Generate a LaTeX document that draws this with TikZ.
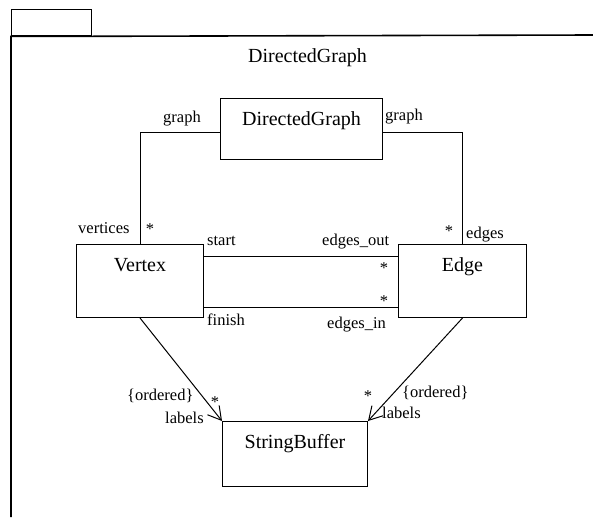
\documentclass[tikz,border=0pt]{standalone}
\usepackage{fontspec}
\setmainfont{Liberation Serif}
\usetikzlibrary{arrows.meta,calc}

\begin{document}
\begin{tikzpicture}[x=1pt,y=-1pt,
  font=\fontsize{20}{24}\selectfont,
  cls/.style={draw,line width=1pt,inner sep=0pt,text height=27pt,anchor=north west},
  role/.style={font=\fontsize{16.5}{20}\selectfont,inner sep=0pt,anchor=base west},
  mult/.style={font=\fontsize{16.5}{20}\selectfont,inner sep=0pt},
  assoc/.style={line width=1pt},
  nav/.style={assoc,-{Straight Barb[length=13pt,width=15pt]}}]
\useasboundingbox (0,0) rectangle (593,517);

% Package frame, cut off at the right and bottom edges.
\node[draw,line width=1.3pt,minimum width=80pt,minimum height=26pt,inner sep=0pt,
      anchor=north west] (pkgtab) at (11,9) {};
\draw[line width=1.6pt] (593,35) -- (pkgtab.south east) -- (pkgtab.south west) -- (11,517);
\node[inner sep=0pt,anchor=base] (pkgname) at (307.5,62) {DirectedGraph};

% Classes
\node[cls,minimum width=162pt,text depth=34pt] (dg) at (220,98) {DirectedGraph};
\node[cls,minimum width=127pt,text depth=46pt] (vtx) at (76,244) {Vertex};
\node[cls,minimum width=128pt,text depth=46pt] (edge) at (398,244) {Edge};
\node[cls,minimum width=145pt,text depth=38pt] (sbuf) at (222,421) {StringBuffer};

% Associations
\draw[assoc] ([yshift=-34pt]dg.north west) -| (vtx.north);
\draw[assoc] ([yshift=-34pt]dg.north east) -| (edge.north);
\draw[assoc] ([yshift=-12pt]vtx.north east) -- ([yshift=-12pt]edge.north west);
\draw[assoc] ([yshift=11pt]vtx.south east) -- ([yshift=11pt]edge.south west);
\draw[nav] (vtx.south) -- (sbuf.north west);
\draw[nav] (edge.south) -- (sbuf.north east);

% Role names and multiplicities
\node[role] (graphl) at (163,122) {graph};
\node[role] (graphr) at (385,120) {graph};
\node[role] (vertices) at (78,233) {vertices};
\node[role] (edges) at (466,238) {edges};
\node[role] (start) at (207,245) {start};
\node[role] (edgesout) at (322,245) {edges\_out};
\node[role] (finish) at (207,325) {finish};
\node[role] (edgesin) at (327,328) {edges\_in};
\node[role] (ordl) at (127,400) {\{ordered\}};
\node[role] (labl) at (165,423) {labels};
\node[role] (ordr) at (402,397) {\{ordered\}};
\node[role] (labr) at (382,418) {labels};
\node[mult] (mvert) at (150,229.5) {*};
\node[mult] (medges) at (449,231.5) {*};
\node[mult] (mout) at (384,268.5) {*};
\node[mult] (min) at (384,301) {*};
\node[mult] (mlabl) at (215,402) {*};
\node[mult] (mlabr) at (368,396.5) {*};
\end{tikzpicture}
\end{document}
